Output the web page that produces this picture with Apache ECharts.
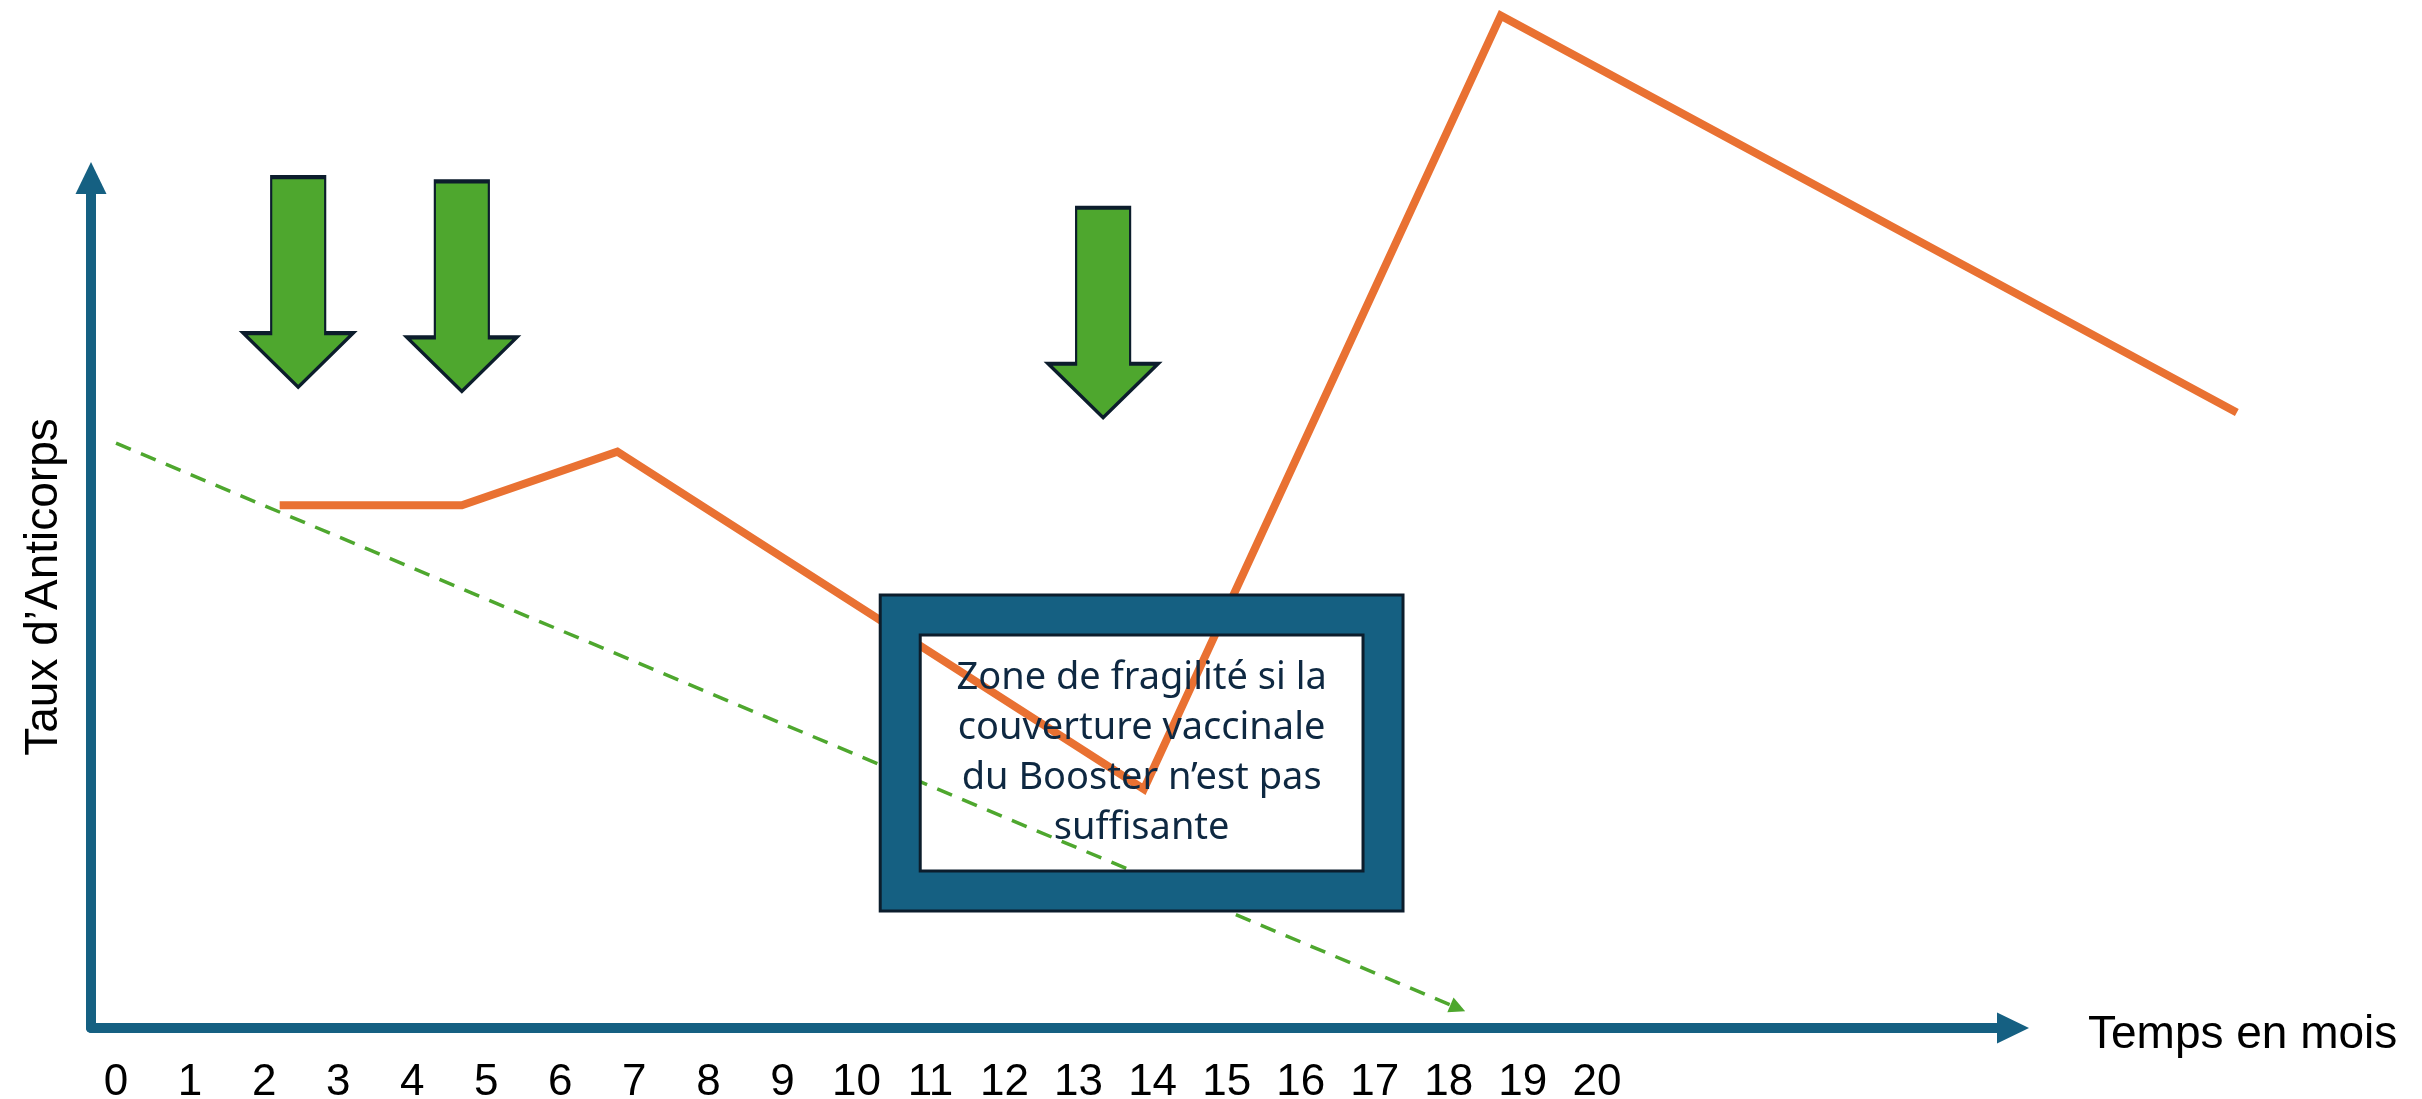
<!DOCTYPE html>
<html>
<head>
<meta charset="utf-8">
<title>Taux d’Anticorps</title>
<script src="https://cdn.jsdelivr.net/npm/echarts@6.0.0/dist/echarts.min.js"></script>
<style>
  html, body { margin: 0; padding: 0; background: #ffffff; }
  #chart { width: 2422px; height: 1099px; }
</style>
</head>
<body>
<div id="chart"></div>
<script>
// graduations de l'axe des mois
var monthTicks = [0, 1, 2, 3, 4, 5, 6, 7, 8, 9, 10, 11, 12, 13, 14, 15, 16, 17, 18, 19, 20];

// courbe orange (taux d'anticorps)
var antibodyMonths = [2.21, 4.67, 6.77, 13.88, 18.70, 28.64];
var antibodyLevel  = [61.5, 61.5, 67.8, 28.1, 119.1, 72.4];

// baisse sans rappel (pointillés verts)
var waningMonths = [0, 18.12];
var waningLevel  = [68.8, 2.35];

// injections (flèches vertes) : pointe de la flèche
var doseMonths   = [2.46, 4.67, 13.33];
var doseArrowTip = [75.4, 74.9, 71.8];

// zone de fragilité : mois début / fin, niveau bas / haut
var zoneBox  = [10.32, 17.38, 13.76, 50.94];
var zoneText = ['Zone de fragilité si la', 'couverture vaccinale', 'du Booster n’est pas', 'suffisante'];

var blue = '#156082';
var orange = '#E97132';
var green = '#4EA72E';
var dark = '#0c1d2c';
var labelFont = "'Liberation Sans', Arial, sans-serif";

// 74.05 px par mois, 8.5 px par unité : les deux grilles ont la même échelle
var chart = echarts.init(document.getElementById('chart'));

chart.setOption({
  animation: false,
  backgroundColor: '#ffffff',
  grid: [
    // grille des axes visibles (flèches)
    { left: 91, right: 409, top: 178, bottom: 71, containLabel: false, outerBoundsMode: 'none' },
    // grille plus grande pour les tracés qui dépassent les flèches
    { left: 91, right: 121.5, top: 8, bottom: 71, containLabel: false, outerBoundsMode: 'none' }
  ],
  xAxis: [
    {
      gridIndex: 0,
      type: 'value',
      min: -0.338,
      max: 25.62,
      name: 'Temps en mois',
      nameLocation: 'end',
      nameGap: 75,
      nameTextStyle: {
        color: '#000000',
        fontSize: 46,
        fontFamily: labelFont,
        verticalAlign: 'top',
        lineHeight: 14
      },
      axisLine: {
        show: true,
        onZero: false,
        symbol: ['none', 'triangle'],
        symbolSize: [31, 32],
        lineStyle: { color: blue, width: 10 }
      },
      axisTick: { show: false },
      splitLine: { show: false },
      axisLabel: {
        customValues: monthTicks,
        color: '#000000',
        fontSize: 44,
        fontFamily: labelFont,
        margin: 33,
        hideOverlap: false
      }
    },
    {
      gridIndex: 1,
      type: 'value',
      min: -0.338,
      max: 29.5,
      show: false
    }
  ],
  yAxis: [
    {
      gridIndex: 0,
      type: 'value',
      min: 0,
      max: 100,
      name: 'Taux d’Anticorps',
      nameLocation: 'middle',
      nameRotate: 90,
      nameGap: 24,
      nameTextStyle: {
        color: '#000000',
        fontSize: 46,
        fontFamily: labelFont,
        padding: [0, 0, 0, 32]
      },
      axisLine: {
        show: true,
        onZero: false,
        symbol: ['none', 'triangle'],
        symbolSize: [31, 32],
        lineStyle: { color: blue, width: 10 }
      },
      axisTick: { show: false },
      axisLabel: { show: false },
      splitLine: { show: false }
    },
    {
      gridIndex: 1,
      type: 'value',
      min: 0,
      max: 120,
      show: false
    }
  ],
  series: [
    {
      name: 'Taux',
      type: 'line',
      xAxisIndex: 1,
      yAxisIndex: 1,
      data: antibodyMonths.map(function (m, i) { return [m, antibodyLevel[i]]; }),
      symbol: 'none',
      clip: false,
      z: 2,
      lineStyle: { color: orange, width: 8, join: 'miter', cap: 'butt' }
    },
    {
      name: 'Sans rappel',
      type: 'lines',
      coordinateSystem: 'cartesian2d',
      xAxisIndex: 1,
      yAxisIndex: 1,
      symbol: ['none', 'triangle'],
      symbolSize: 16,
      z: 3,
      lineStyle: { color: green, width: 3.5, type: [16, 11], opacity: 1, curveness: 0 },
      data: [{ coords: waningMonths.map(function (m, i) { return [m, waningLevel[i]]; }) }]
    },
    {
      name: 'Injections',
      type: 'scatter',
      xAxisIndex: 1,
      yAxisIndex: 1,
      data: doseMonths.map(function (m, i) { return [m, doseArrowTip[i]]; }),
      // flèche vers le bas, la pointe est sur le point
      symbol: 'path://M28,0 L82,0 L82,156 L110,156 L55,210 L0,156 L28,156 Z',
      symbolSize: [110, 210],
      symbolOffset: [0, -105],
      clip: false,
      z: 4,
      itemStyle: { color: green, borderColor: dark, borderWidth: 3, opacity: 1 }
    },
    {
      name: 'Zone',
      type: 'custom',
      coordinateSystem: 'cartesian2d',
      xAxisIndex: 1,
      yAxisIndex: 1,
      clip: false,
      z: 6,
      encode: { x: [0, 1], y: [2, 3] },
      data: [zoneBox],
      renderItem: function (params, api) {
        var p0 = api.coord([api.value(0), api.value(3)]);
        var p1 = api.coord([api.value(1), api.value(2)]);
        var x = p0[0], y = p0[1];
        var w = p1[0] - p0[0], h = p1[1] - p0[1];
        var t = 40; // épaisseur du cadre
        return {
          type: 'group',
          children: [
            { type: 'rect', shape: { x: x, y: y, width: w, height: t }, style: { fill: blue } },
            { type: 'rect', shape: { x: x, y: y + h - t, width: w, height: t }, style: { fill: blue } },
            { type: 'rect', shape: { x: x, y: y + t, width: t, height: h - 2 * t }, style: { fill: blue } },
            { type: 'rect', shape: { x: x + w - t, y: y + t, width: t, height: h - 2 * t }, style: { fill: blue } },
            { type: 'rect', shape: { x: x, y: y, width: w, height: h }, style: { fill: 'none', stroke: dark, lineWidth: 3 } },
            { type: 'rect', shape: { x: x + t, y: y + t, width: w - 2 * t, height: h - 2 * t }, style: { fill: 'none', stroke: dark, lineWidth: 3 } },
            {
              type: 'text',
              style: {
                text: zoneText.join('\n'),
                x: x + w / 2,
                y: y + h / 2,
                align: 'center',
                verticalAlign: 'middle',
                font: "38px 'Noto Sans', sans-serif",
                lineHeight: 50,
                fill: '#0E2841'
              }
            }
          ]
        };
      }
    }
  ]
});
</script>
</body>
</html>
